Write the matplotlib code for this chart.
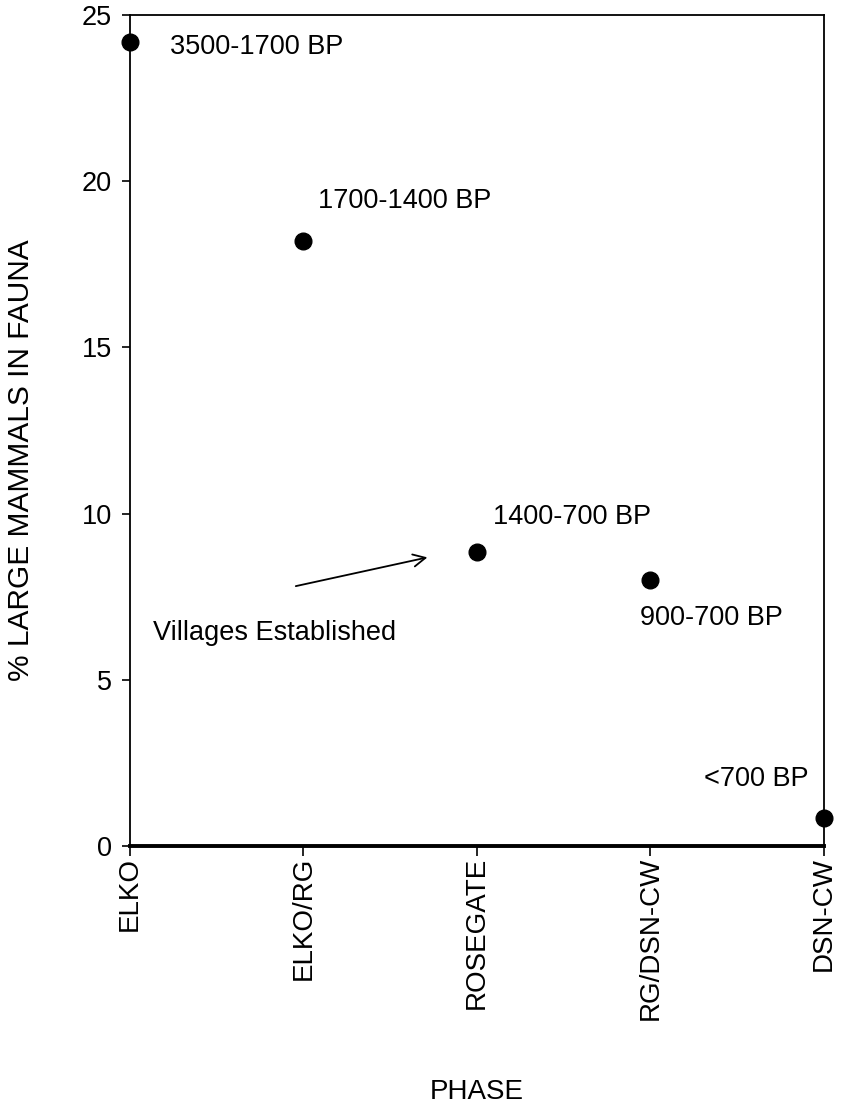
import matplotlib
matplotlib.use("Agg")
import matplotlib.pyplot as plt

phases = ["ELKO", "ELKO/RG", "ROSEGATE", "RG/DSN-CW", "DSN-CW"]
pct_large_mammals = [24.2, 18.2, 8.85, 8.0, 0.85]
date_labels = ["3500-1700 BP", "1700-1400 BP", "1400-700 BP", "900-700 BP", "<700 BP"]
yticks = [0, 5, 10, 15, 20, 25]

plt.rcParams['font.family'] = ['Liberation Sans', 'DejaVu Sans']

fig = plt.figure(figsize=(8.42, 11.14), dpi=100)
ax = fig.add_axes([0.1544, 0.2406, 0.8242, 0.7459])

x = list(range(len(phases)))
ax.plot(x, pct_large_mammals, 'o', color='black', markersize=12, clip_on=False, zorder=5)

ax.set_xlim(0, 4)
ax.set_ylim(0, 25)
ax.set_yticks(yticks)
ax.set_yticklabels([str(v) for v in yticks], fontsize=19.5)
ax.set_xticks(x)
ax.set_xticklabels(phases, rotation=90, fontsize=20, va='top')
ax.tick_params(axis='y', direction='out', length=6, width=1.2, pad=7)
ax.tick_params(axis='x', direction='out', length=7, width=1.2, pad=1)

for side in ['left', 'top', 'right']:
    ax.spines[side].set_linewidth(1.3)
ax.spines['bottom'].set_linewidth(2.8)

ax.set_ylabel("% LARGE MAMMALS IN FAUNA", fontsize=21.5)
ax.yaxis.set_label_coords(-0.137, 0.4645)
ax.set_xlabel("PHASE", fontsize=20)
ax.xaxis.set_label_coords(0.5, -0.281)

offsets = [(40, -5), (15, 40), (16, 35), (-10, -38), (-120, 39)]
for xi, yi, lab, (dx, dy) in zip(x, pct_large_mammals, date_labels, offsets):
    ax.annotate(lab, (xi, yi), xytext=(dx, dy), textcoords='offset pixels',
                fontsize=19.5, ha='left', va='center', annotation_clip=False)

ax.text(0.13, 6.4, "Villages Established", fontsize=19.5, ha='left', va='center')
ax.annotate("", xy=(1.73, 8.7), xytext=(0.94, 7.8),
            arrowprops=dict(arrowstyle='->', color='black', lw=1.3, mutation_scale=22))

fig.savefig("out.png", dpi=100)
